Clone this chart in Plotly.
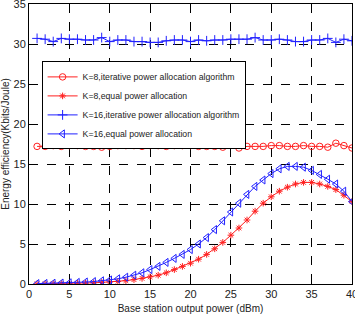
import plotly.graph_objects as go

power_dbm = list(range(1, 41))

k8_iterative = [17.2, 17.2, 17.3, 17.2, 17.3, 17.3, 17.2, 17.2, 17.1, 17.2,
                17.3, 17.3, 17.3, 17.2, 17.3, 17.3, 17.2, 17.3, 17.3, 17.3,
                17.2, 17.2, 17.2, 17.1, 17.5, 17.0, 17.2, 17.2, 17.2, 17.3,
                17.3, 17.2, 17.2, 17.3, 17.2, 17.2, 17.1, 17.6, 17.3, 17.0]

k8_equal = [0.02, 0.03, 0.04, 0.05, 0.07, 0.09, 0.12, 0.15, 0.2, 0.25,
            0.32, 0.42, 0.55, 0.7, 0.9, 1.1, 1.4, 1.8, 2.2, 2.6,
            3.1, 3.7, 4.4, 5.2, 6.1, 7.0, 8.0, 9.1, 10.1, 10.9,
            11.6, 12.1, 12.5, 12.7, 12.7, 12.5, 12.2, 11.8, 11.1, 10.3]

k16_iterative = [30.7, 30.6, 30.3, 30.7, 30.6, 30.6, 30.5, 30.5, 30.8, 30.3,
                 30.5, 30.5, 30.3, 30.3, 30.2, 30.2, 30.4, 30.5, 30.5, 30.3,
                 30.5, 30.4, 30.5, 30.5, 30.6, 30.6, 30.6, 30.8, 30.5, 30.5,
                 30.6, 30.5, 30.3, 30.3, 30.5, 30.5, 30.7, 30.2, 30.6, 30.4]

k16_equal = [0.05, 0.07, 0.1, 0.12, 0.15, 0.2, 0.25, 0.3, 0.4, 0.5,
             0.65, 0.85, 1.1, 1.4, 1.8, 2.2, 2.7, 3.2, 3.7, 4.3,
             5.0, 5.8, 6.8, 7.9, 9.0, 10.1, 11.2, 12.2, 13.0, 13.8,
             14.4, 14.7, 14.7, 14.6, 14.2, 13.7, 13.1, 12.5, 11.6, 10.3]

x_ticks = [0, 5, 10, 15, 20, 25, 30, 35, 40]
y_ticks = [0, 5, 10, 15, 20, 25, 30, 35]

names = ["K=8,iterative power allocation algorithm",
         "K=8,equal power allocation",
         "K=16,iterative power allocation algorithm",
         "K=16,equal power allocation"]

RED = "#ff2020"
BLUE = "#2020ff"
FONT = "Liberation Sans, Arial, sans-serif"

fig = go.Figure()
fig.add_trace(go.Scatter(x=power_dbm, y=k8_iterative, name=names[0], mode="lines+markers",
                         line=dict(color=RED, width=1),
                         marker=dict(symbol="circle-open", size=6.5, color=RED, line=dict(width=1, color=RED))))
fig.add_trace(go.Scatter(x=power_dbm, y=k8_equal, name=names[1], mode="lines+markers",
                         line=dict(color=RED, width=1),
                         marker=dict(symbol="asterisk-open", size=5.5, color=RED, line=dict(width=1, color=RED))))
fig.add_trace(go.Scatter(x=power_dbm, y=k16_iterative, name=names[2], mode="lines+markers",
                         line=dict(color=BLUE, width=1),
                         marker=dict(symbol="cross-thin-open", size=7, color=BLUE, line=dict(width=1, color=BLUE))))
fig.add_trace(go.Scatter(x=power_dbm, y=k16_equal, name=names[3], mode="lines+markers",
                         line=dict(color=BLUE, width=1),
                         marker=dict(symbol="triangle-left-open", size=7, color=BLUE, line=dict(width=1, color=BLUE))))

axis_common = dict(
    showgrid=True, gridcolor="black", griddash="dash", gridwidth=0.6,
    showline=True, linecolor="black", linewidth=1, mirror=True,
    ticks="inside", ticklen=3, tickcolor="black",
    zeroline=False, automargin=False, ticklabeloverflow="allow",
    tickfont=dict(family=FONT, size=11, color="#222"),
)

fig.update_xaxes(range=[0, 40], tickvals=x_ticks,
                 title=dict(text="Base station output power (dBm)", standoff=11,
                            font=dict(family=FONT, size=10, color="#222")),
                 **axis_common)
fig.update_yaxes(range=[0, 35], tickvals=y_ticks,
                 title=dict(text="Energy efficiency(Kbits/Joule)", standoff=2,
                            font=dict(family=FONT, size=10, color="#222")),
                 **axis_common)

fig.update_layout(
    width=355, height=314,
    margin=dict(l=29, r=3, t=4, b=30),
    paper_bgcolor="white", plot_bgcolor="white",
    showlegend=True,
    legend=dict(x=0.039, y=0.795, xanchor="left", yanchor="top",
                bgcolor="white", bordercolor="black", borderwidth=1,
                font=dict(family=FONT, size=8.7, color="#222"),
                tracegroupgap=0, itemwidth=30),
)

fig.write_html("out.html")
